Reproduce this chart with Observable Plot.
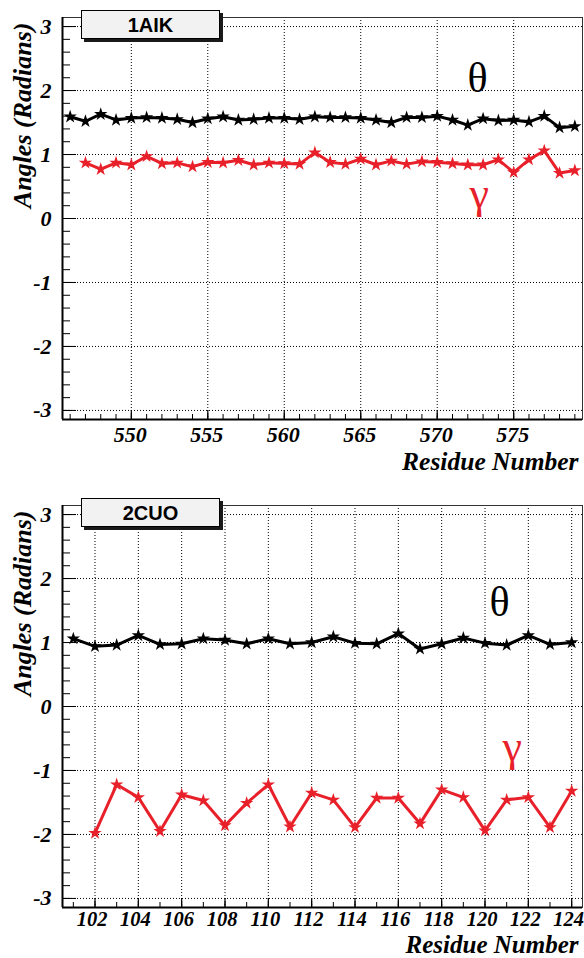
<!DOCTYPE html>
<html><head><meta charset="utf-8">
<script src="https://cdn.jsdelivr.net/npm/d3@7"></script>
<script src="https://cdn.jsdelivr.net/npm/@observablehq/plot@0.6"></script>
<style>
html,body{margin:0;padding:0;background:#fff;}
body{width:584px;overflow:hidden;}
.panel{position:relative;width:584px;}
.panel svg{display:block;}
.tag{position:absolute;left:81px;top:10px;width:137px;height:27px;background:#f2f2f2;border:1px solid #000;box-shadow:3px 3px 0 #1a1a1a;font:bold 20px "Liberation Sans",Arial,sans-serif;text-align:center;line-height:28px;color:#000;}
</style></head><body>
<div id="p1" class="panel"><div class="tag">1AIK</div></div>
<div id="p2" class="panel"><div class="tag">2CUO</div></div>
<script>
// ---- Panel 1: 1AIK ----
const residues1 = [546,547,548,549,550,551,552,553,554,555,556,557,558,559,560,561,562,563,564,565,566,567,568,569,570,571,572,573,574,575,576,577,578,579];
const theta1 = [1.59,1.52,1.63,1.54,1.57,1.58,1.57,1.55,1.50,1.56,1.59,1.54,1.55,1.57,1.57,1.55,1.59,1.58,1.58,1.57,1.54,1.50,1.58,1.58,1.60,1.54,1.46,1.56,1.53,1.54,1.51,1.60,1.42,1.44];
const gammaRes1 = [547,548,549,550,551,552,553,554,555,556,557,558,559,560,561,562,563,564,565,566,567,568,569,570,571,572,573,574,575,576,577,578,579];
const gamma1 = [0.87,0.77,0.87,0.84,0.97,0.86,0.87,0.81,0.88,0.87,0.91,0.84,0.87,0.86,0.85,1.03,0.88,0.85,0.93,0.84,0.90,0.85,0.89,0.88,0.86,0.84,0.84,0.92,0.72,0.92,1.06,0.71,0.75];
const xTicks1 = [550,555,560,565,570,575];

// ---- Panel 2: 2CUO ----
const residues2 = [101,102,103,104,105,106,107,108,109,110,111,112,113,114,115,116,117,118,119,120,121,122,123,124];
const theta2 = [1.06,0.94,0.96,1.11,0.97,0.98,1.06,1.04,0.98,1.06,0.98,1.00,1.09,0.99,0.98,1.14,0.90,0.98,1.07,0.99,0.96,1.11,0.97,1.00];
const gammaRes2 = [102,103,104,105,106,107,108,109,110,111,112,113,114,115,116,117,118,119,120,121,122,123,124];
const gamma2 = [-1.98,-1.22,-1.42,-1.95,-1.38,-1.47,-1.86,-1.51,-1.22,-1.88,-1.35,-1.46,-1.89,-1.43,-1.43,-1.83,-1.30,-1.42,-1.94,-1.46,-1.42,-1.89,-1.32];
const xTicks2 = [102,104,106,108,110,112,114,116,118,120,122,124];

const yTicks = [-3,-2,-1,0,1,2,3];
const yTitle = "Angles (Radians)";
const xTitle = "Residue Number";

const SERIF = "Liberation Serif";
const RED = "#e8202a";

function panel({residues, theta, gammaRes, gamma, xDomain, xMajor, xMinor, height, marginBottom, titleDy, titleFont, xPad, xDx, xFont, thetaAt, gammaAt}) {
  const th = residues.map((r, i) => ({r, v: theta[i]}));
  const ga = gammaRes.map((r, i) => ({r, v: gamma[i]}));
  const W = 584, mL = 62, mR = 2, mT = 17;
  const pw = W - mL - mR, ph = height - mT - marginBottom;
  const yMinor = d3.range(-30, 31, 2).map(d => d / 10);
  const bi = {fontWeight: "bold", fontStyle: "italic", fontFamily: SERIF};
  const dots = {stroke: "#000", strokeOpacity: 1, strokeWidth: 1, strokeDasharray: "1,2"};
  return Plot.plot({
    width: W, height, marginLeft: mL, marginRight: mR, marginTop: mT, marginBottom,
    x: {domain: xDomain},
    y: {domain: [-Math.PI, Math.PI]},
    style: {fontFamily: SERIF, background: "white"},
    marks: [
      Plot.gridY(yTicks, dots),
      Plot.gridX(xMajor, dots),
      // inward ticks
      Plot.ruleY(yMinor, {stroke: "#000", strokeWidth: 1, insetRight: pw - 8}),
      Plot.ruleY(yTicks, {stroke: "#000", strokeWidth: 1, insetRight: pw - 14}),
      Plot.ruleX(xMinor, {stroke: "#000", strokeWidth: 1, insetTop: ph - 5}),
      Plot.ruleX(xMajor, {stroke: "#000", strokeWidth: 1.2, insetTop: ph - 9}),
      Plot.frame({stroke: "#333", strokeWidth: 1}),
      Plot.ruleX([xDomain[0]], {stroke: "#000", strokeWidth: 2}),
      Plot.ruleY([-Math.PI], {stroke: "#000", strokeWidth: 2}),
      Plot.axisY(yTicks, {tickSize: 0, tickPadding: 11, fontSize: 22, ...bi, label: null, tickFormat: d => String(d)}),
      Plot.axisX(xMajor, {tickSize: 0, tickPadding: xPad, dx: xDx, fontSize: xFont, ...bi, label: null, tickFormat: d => String(d)}),
      Plot.text([yTitle], {text: d => d, frameAnchor: "top-left", rotate: -90, textAnchor: "end", lineAnchor: "bottom", dx: -32, dy: 5, fontSize: 26, ...bi}),
      Plot.text([xTitle], {text: d => d, frameAnchor: "bottom-right", textAnchor: "end", lineAnchor: "bottom", dx: -4, dy: titleDy, fontSize: titleFont, ...bi}),
      Plot.line(th, {x: "r", y: "v", stroke: "#000", strokeWidth: 3}),
      Plot.dot(th, {x: "r", y: "v", symbol: "star", r: 4.2, fill: "#000", stroke: "none"}),
      Plot.line(ga, {x: "r", y: "v", stroke: RED, strokeWidth: 3}),
      Plot.dot(ga, {x: "r", y: "v", symbol: "star", r: 4.2, fill: RED, stroke: "none"}),
      Plot.text(["θ"], {text: d => d, frameAnchor: "top-left", dx: thetaAt[0], dy: thetaAt[1], fontSize: 42, fontFamily: SERIF, fill: "#000"}),
      Plot.text(["γ"], {text: d => d, frameAnchor: "top-left", dx: gammaAt[0], dy: gammaAt[1], fontSize: 44, fontFamily: SERIF, fill: RED})
    ]
  });
}

document.getElementById("p1").appendChild(panel({
  residues: residues1, theta: theta1, gammaRes: gammaRes1, gamma: gamma1,
  xDomain: [545.5, 579.5], xMajor: xTicks1, xMinor: residues1,
  height: 488, marginBottom: 69, titleDy: 50, titleFont: 25.5, xPad: 7, xDx: -1, xFont: 22,
  thetaAt: [405, 45], gammaAt: [407, 159]
}));
document.getElementById("p2").appendChild(panel({
  residues: residues2, theta: theta2, gammaRes: gammaRes2, gamma: gamma2,
  xDomain: [100.5, 124.5], xMajor: xTicks2, xMinor: residues2,
  height: 470, marginBottom: 51, titleDy: 45.5, titleFont: 25, xPad: 4, xDx: -3, xFont: 20.5,
  thetaAt: [427, 81], gammaAt: [440, 224]
}));
</script>
</body></html>
